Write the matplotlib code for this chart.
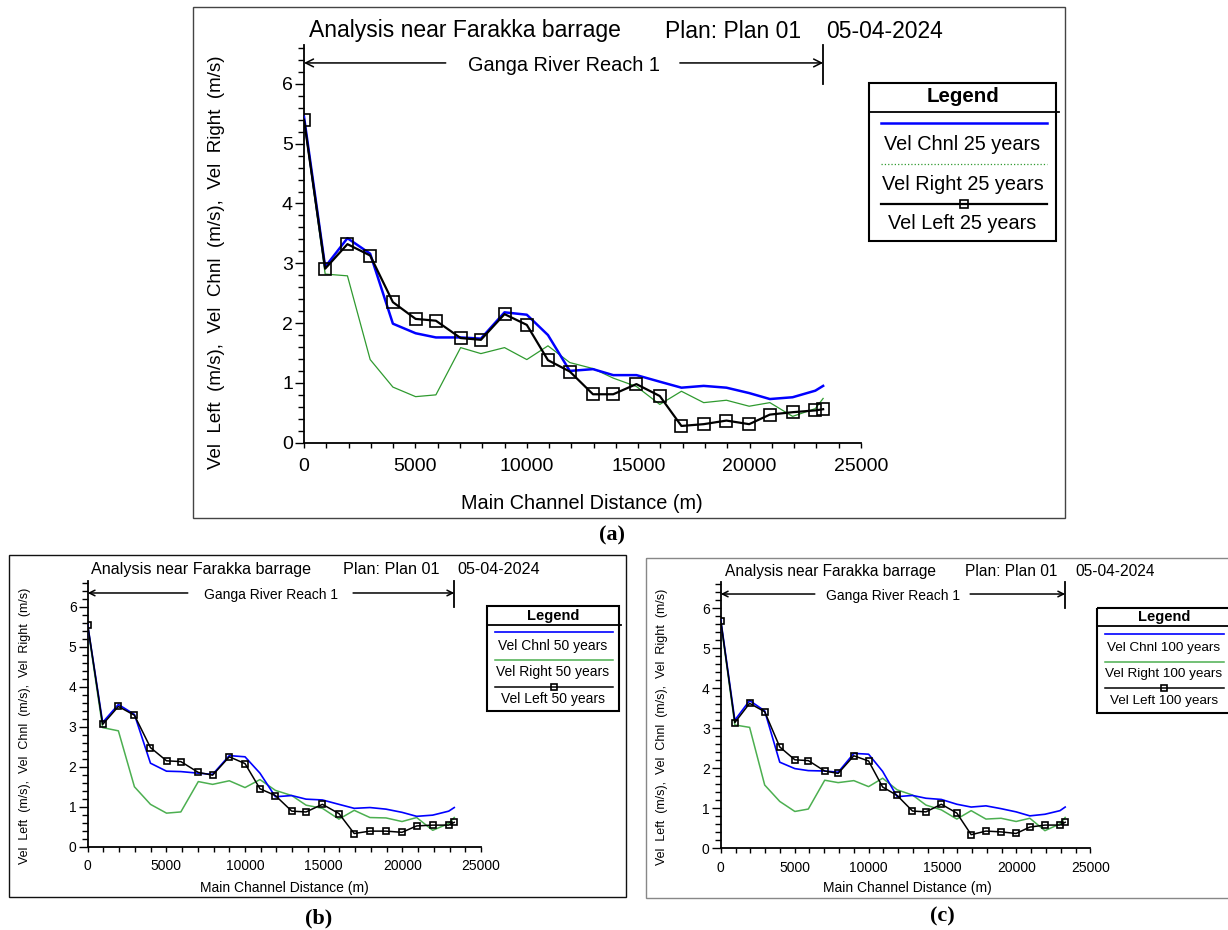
import matplotlib
matplotlib.use("Agg")
import matplotlib.pyplot as plt
from matplotlib.ticker import MultipleLocator
from matplotlib.patches import Rectangle
from matplotlib.lines import Line2D

plt.rcParams['font.family'] = ['Liberation Sans', 'DejaVu Sans']

# ---- data: HEC-RAS velocity profiles, Ganga River Reach 1 ----
distance_m = [0, 950, 1950, 2970, 3990, 5010, 5920, 7030, 7940, 9000, 10000, 10950,
              11930, 12970, 13880, 14920, 15970, 16940, 17940, 18960, 19980, 20910,
              21930, 22950, 23300]

vel_chnl_25 = [5.45, 2.94, 3.42, 3.16, 1.99, 1.83, 1.76, 1.76, 1.74, 2.18, 2.14, 1.80,
               1.20, 1.23, 1.13, 1.13, 1.02, 0.92, 0.95, 0.92, 0.83, 0.73, 0.76, 0.87, 0.95]
vel_right_25 = [5.40, 2.82, 2.79, 1.39, 0.93, 0.77, 0.80, 1.59, 1.49, 1.59, 1.39, 1.62,
                1.34, 1.24, 1.08, 0.94, 0.64, 0.86, 0.67, 0.71, 0.61, 0.67, 0.44, 0.57, 0.74]
vel_left_25 = [5.40, 2.91, 3.32, 3.13, 2.35, 2.07, 2.04, 1.75, 1.72, 2.15, 1.97, 1.38,
               1.19, 0.81, 0.81, 0.98, 0.78, 0.28, 0.31, 0.37, 0.31, 0.47, 0.51, 0.54, 0.56]

vel_chnl_50 = [5.55, 3.11, 3.56, 3.31, 2.09, 1.89, 1.88, 1.84, 1.81, 2.28, 2.25, 1.84,
               1.25, 1.28, 1.19, 1.17, 1.06, 0.96, 0.98, 0.94, 0.86, 0.76, 0.79, 0.89, 0.98]
vel_right_50 = [5.50, 2.98, 2.90, 1.50, 1.06, 0.84, 0.87, 1.63, 1.56, 1.65, 1.48, 1.68,
                1.41, 1.28, 1.04, 0.96, 0.69, 0.91, 0.73, 0.72, 0.63, 0.73, 0.41, 0.58, 0.73]
vel_left_50 = [5.55, 3.06, 3.51, 3.29, 2.48, 2.15, 2.13, 1.86, 1.79, 2.25, 2.08, 1.45,
               1.28, 0.89, 0.87, 1.06, 0.83, 0.33, 0.39, 0.39, 0.36, 0.52, 0.54, 0.54, 0.61]

vel_chnl_100 = [5.70, 3.20, 3.69, 3.43, 2.15, 1.99, 1.94, 1.93, 1.90, 2.37, 2.35, 1.92,
                1.29, 1.32, 1.25, 1.22, 1.10, 1.03, 1.06, 0.99, 0.91, 0.81, 0.85, 0.94, 1.03]
vel_right_100 = [5.65, 3.08, 3.02, 1.58, 1.17, 0.92, 0.98, 1.70, 1.64, 1.69, 1.54, 1.75,
                 1.46, 1.33, 1.08, 0.96, 0.73, 0.94, 0.73, 0.75, 0.67, 0.75, 0.44, 0.61, 0.77]
vel_left_100 = [5.68, 3.14, 3.62, 3.41, 2.53, 2.21, 2.19, 1.93, 1.87, 2.31, 2.18, 1.53,
                1.32, 0.93, 0.91, 1.10, 0.88, 0.34, 0.43, 0.41, 0.37, 0.53, 0.58, 0.58, 0.65]

x_ticks = [0, 5000, 10000, 15000, 20000, 25000]
y_ticks = [0, 1, 2, 3, 4, 5, 6]
title_parts = ["Analysis near Farakka barrage", "Plan: Plan 01", "05-04-2024"]
reach_name = "Ganga River Reach 1"
x_label = "Main Channel Distance (m)"
y_label = "Vel  Left  (m/s),  Vel  Chnl  (m/s),  Vel  Right  (m/s)"

W, H = 1228, 930
fig = plt.figure(figsize=(W / 100, H / 100), dpi=100)

# overlay in pixel coordinates for frames, titles and legends
ov = fig.add_axes([0, 0, 1, 1], zorder=5)
ov.set_xlim(0, W)
ov.set_ylim(H, 0)
ov.axis('off')
ov.patch.set_alpha(0)

panels = [
    dict(tag="25 years", chnl=vel_chnl_25, right=vel_right_25, left=vel_left_25,
         frame=(192.5, 7, 1065, 518), frame_col='#444444', letter="(a)", letter_xy=(612, 535),
         ax=(304, 861, 45, 442.7), fs_tick=14, fs_title=16.5, fs_lab=14.3, fs_ylab=13.5,
         title_x=(309, 665, 826), title_y=37.5, ylab_xy=(216.5, 262.5), xlab_xy=(582, 503),
         tick_pad=7, grn='#2f9a2f', grn_lw=0.9, blue_lw=1.8, blk_lw=1.6, ms=8,
         leg=dict(box=(869, 1056, 83.3, 241), head=112.3, head_r=1059, title_y=97,
                  line=(881, 1047), rows=(123.3, 144, 164.3, 184.3, 204.3, 223.3), fs=14.3,
                  fs_head=14.8, cx=962.5, green_ls=':')),
    dict(tag="50 years", chnl=vel_chnl_50, right=vel_right_50, left=vel_left_50,
         frame=(8.8, 555, 625.7, 896.7), frame_col='#111111', letter="(b)", letter_xy=(319, 918),
         ax=(87.7, 481, 581, 846.7), fs_tick=10, fs_title=11.6, fs_lab=10, fs_ylab=9,
         title_x=(91, 343, 457), title_y=573.5, ylab_xy=(24.7, 725.8), xlab_xy=(284, 888.3),
         tick_pad=5, grn='#4caf50', grn_lw=1.1, blue_lw=1.2, blk_lw=1.1, ms=5,
         leg=dict(box=(487, 619, 605.7, 710.7), head=625, head_r=620.6, title_y=615.5,
                  line=(495.4, 612.6), rows=(632.3, 646, 659.7, 672.3, 686.7, 699.3), fs=10,
                  fs_head=10.5, cx=553, green_ls='-')),
    dict(tag="100 years", chnl=vel_chnl_100, right=vel_right_100, left=vel_left_100,
         frame=(646, 557.7, 1234, 897.7), frame_col='#888888', letter="(c)", letter_xy=(942, 916),
         ax=(720.8, 1090.3, 582, 848.3), fs_tick=10, fs_title=11.2, fs_lab=10, fs_ylab=9,
         title_x=(724.7, 965, 1075), title_y=576, ylab_xy=(661.9, 727), xlab_xy=(907, 888.3),
         tick_pad=5, grn='#4caf50', grn_lw=1.1, blue_lw=1.2, blk_lw=1.1, ms=5,
         leg=dict(box=(1097, 1232, 608, 713), head=626, head_r=1232, title_y=617.3,
                  line=(1104.7, 1224), rows=(634.3, 648.3, 661.7, 674.3, 688.3, 701), fs=9.7,
                  fs_head=10.5, cx=1164, green_ls='-')),
]

for p in panels:
    fl, ft, fr, fb = p['frame']
    ov.add_patch(Rectangle((fl, ft), fr - fl, fb - ft, fill=False, ec=p['frame_col'], lw=1.0))
    ov.text(*p['letter_xy'], p['letter'], fontsize=16, fontweight='bold',
            family=['Liberation Serif', 'DejaVu Serif'], ha='center', va='center')

    l, r, t, b = p['ax']
    ax = fig.add_axes([l / W, 1 - b / H, (r - l) / W, (b - t) / H])
    ax.patch.set_alpha(0)
    ax.set_xlim(0, 25000)
    ax.set_ylim(0, 6.65)
    for s in ('top', 'right'):
        ax.spines[s].set_visible(False)
    for s in ('left', 'bottom'):
        ax.spines[s].set_linewidth(1.3)
    ax.set_xticks(x_ticks)
    ax.set_yticks(y_ticks)
    ax.xaxis.set_minor_locator(MultipleLocator(1000))
    ax.yaxis.set_minor_locator(MultipleLocator(0.2))
    ax.tick_params(axis='x', which='both', direction='out', length=3.8, width=1.0,
                   labelsize=p['fs_tick'], pad=p['tick_pad'])
    ax.tick_params(axis='y', which='major', direction='out', length=6.5, width=1.0,
                   labelsize=p['fs_tick'], pad=1.5)
    ax.tick_params(axis='y', which='minor', direction='out', length=4, width=1.0)

    ax.plot(distance_m, p['right'], color=p['grn'], lw=p['grn_lw'], zorder=2)
    ax.plot(distance_m, p['chnl'], color='#0000ff', lw=p['blue_lw'], zorder=3)
    ax.plot(distance_m, p['left'], color='black', lw=p['blk_lw'], marker='s', ms=p['ms'],
            mfc='none', mec='black', mew=1.2, zorder=4)

    # reach extent arrow with its name
    reach_end = distance_m[-1]
    y_arrow = 6.35
    gap_l, gap_r = 0.273 * reach_end, 0.724 * reach_end
    arrow = dict(arrowstyle='->', color='black', lw=1.1, shrinkA=0, shrinkB=0,
                 mutation_scale=14 if p['fs_tick'] > 12 else 10)
    ax.annotate('', xy=(0, y_arrow), xytext=(gap_l, y_arrow), arrowprops=arrow,
                annotation_clip=False)
    ax.annotate('', xy=(reach_end, y_arrow), xytext=(gap_r, y_arrow), arrowprops=arrow,
                annotation_clip=False)
    ax.plot([reach_end, reach_end], [6.0, 6.65], color='black', lw=1.3, clip_on=False)
    ax.text(reach_end / 2, y_arrow - 0.05, reach_name, ha='center', va='center',
            fontsize=p['fs_lab'])

    # header line
    for txt, x0 in zip(title_parts, p['title_x']):
        ov.text(x0, p['title_y'], txt, fontsize=p['fs_title'], ha='left', va='baseline')

    ov.text(*p['ylab_xy'], y_label, rotation=90, ha='center', va='center', fontsize=p['fs_ylab'])
    ov.text(*p['xlab_xy'], x_label, ha='center', va='center', fontsize=p['fs_lab'])

    # legend box
    g = p['leg']
    bl, br, bt, bb = g['box']
    ov.add_patch(Rectangle((bl, bt), br - bl, bb - bt, fill=False, ec='black', lw=1.5))
    ov.plot([bl, g['head_r']], [g['head'], g['head']], color='black', lw=1.3)
    ov.text(g['cx'], g['title_y'], "Legend", fontsize=g['fs_head'], fontweight='bold',
            ha='center', va='center')
    x0, x1 = g['line']
    rows = g['rows']
    ov.plot([x0, x1], [rows[0], rows[0]], color='#0000ff', lw=p['blue_lw'])
    ov.text(g['cx'], rows[1], f"Vel Chnl {p['tag']}", fontsize=g['fs'], ha='center', va='center')
    ov.plot([x0, x1], [rows[2], rows[2]], color=p['grn'], lw=p['grn_lw'], ls=g['green_ls'])
    ov.text(g['cx'], rows[3], f"Vel Right {p['tag']}", fontsize=g['fs'], ha='center', va='center')
    ov.plot([x0, x1], [rows[4], rows[4]], color='black', lw=p['blk_lw'])
    ov.plot([(x0 + x1) / 2], [rows[4]], marker='s', ms=p['ms'] * 0.75, mfc='none',
            mec='black', mew=1.2)
    ov.text(g['cx'], rows[5], f"Vel Left {p['tag']}", fontsize=g['fs'], ha='center', va='center')

fig.savefig("out.png", dpi=100)
